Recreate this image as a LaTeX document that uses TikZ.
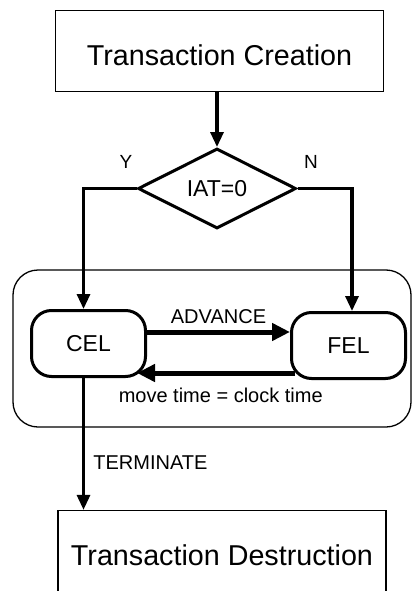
\documentclass[tikz,border=0pt]{standalone}
\usepackage{fontspec}
\setmainfont{Liberation Sans}
\usetikzlibrary{arrows.meta, positioning, shapes.geometric, backgrounds, calc}

\begin{document}
\begin{tikzpicture}[
    x=1pt, y=-1pt,
    phase/.style={
        rectangle, draw=black, line width=1.3pt,
        minimum width=328pt, minimum height=81pt,
        text height=35pt, text depth=6pt, inner sep=0pt,
        font=\fontsize{28.7}{34}\selectfont
    },
    decision/.style={
        diamond, draw=black, line width=3pt, inner sep=0pt,
        minimum width=158pt, minimum height=80pt,
        font=\fontsize{23}{27}\selectfont
    },
    eventlist/.style={
        rectangle, rounded corners=20pt, draw=black, line width=3pt,
        minimum width=114pt, minimum height=66pt,
        font=\fontsize{23}{27}\selectfont
    },
    arrow/.style={
        line width=3.2pt, -{Triangle[length=15pt, width=13pt]}
    },
    thick arrow/.style={
        line width=5pt, -{Triangle[length=18pt, width=17pt]}
    },
    branch/.style={font=\fontsize{19}{23}\selectfont},
    tag/.style={font=\fontsize{20}{24}\selectfont},
    panel/.style={draw=black, line width=1.3pt, rounded corners=25pt}
]
\useasboundingbox (0,0) rectangle (413,591);

% ===== Nodes =====
\node[phase]     (create)  at (219.5,51)  {Transaction Creation};
\node[decision]  (iat)     at (217,188.5) {IAT=0};
\node[branch]    (yes)     at (126,162)   {Y};
\node[branch]    (no)      at (311,162)   {N};
\node[eventlist] (cel)     at (88.5,343.5) {CEL};
\node[eventlist] (fel)     at (348.5,345.5) {FEL};
\node[phase]     (destroy) at (222,551)   {Transaction Destruction};

% ===== Arrows =====
\draw[arrow] (iat.north |- create.south) -- (iat.north);
\draw[arrow] (iat.west) -| ([xshift=-5pt]cel.north);
\draw[arrow] (iat.east) -| ([xshift=3.5pt]fel.north);
\draw[thick arrow] ([yshift=11.5pt]cel.east) -- ([yshift=11.5pt]cel.east -| fel.west)
    node[tag, midway, above=2pt] {ADVANCE};
\draw[thick arrow] ([shift={(5,27.5)}]fel.west) -- ($(cel.east |- fel.west)+(-10,27.5)$)
    node[tag, pos=0.47, below=9pt] {move time = clock time};
\draw[arrow] ($(cel.south)+(-5,0)$) -- ($(cel.south |- destroy.north)+(-5,0)$)
    node[tag, pos=0.64, right=5pt] {TERMINATE};

% ===== Event list panel =====
\begin{scope}[on background layer]
    \draw[panel] (13,270) rectangle (411,427);
\end{scope}

\end{tikzpicture}
\end{document}
